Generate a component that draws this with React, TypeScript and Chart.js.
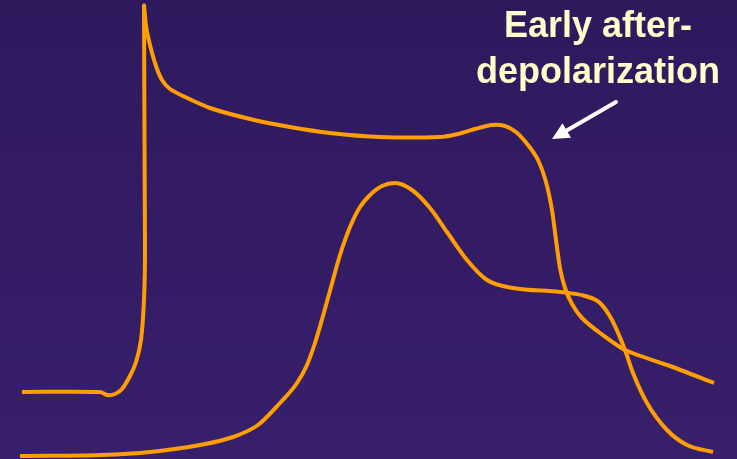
import React, { useEffect, useRef } from "react";
import { Chart, registerables } from "chart.js";

Chart.register(...registerables);

// Time axis (arbitrary units) and amplitude (arbitrary units, up = positive)
const apTime = [22, 100, 107, 115, 122, 130, 136, 141, 144, 145, 144, 146, 150, 156, 162, 170, 185, 210, 250, 290, 330, 380, 440, 458, 475, 492, 505, 516, 528, 538, 546, 552, 556, 560, 565, 572, 582, 600, 625, 670, 714];
const apValue = [67, 67, 64, 65, 70, 83, 97, 119, 159, 209, 453, 433, 414, 393, 379, 370, 362, 351, 340, 332, 326, 322, 322, 325, 330, 334, 333, 327, 314, 299, 277, 249, 219, 191, 171, 155, 141, 126, 109, 93, 76];

const caTime = [20, 100, 150, 200, 233, 258, 280, 297, 307, 315, 323, 331, 340, 350, 360, 370, 382, 395, 412, 430, 447, 467, 487, 513, 560, 585, 600, 612, 625, 633, 647, 667, 687, 713];
const caValue = [3, 4, 7, 14, 22, 34, 56, 76, 94, 116, 143, 172, 204, 232, 252, 264, 273, 276, 269, 251, 227, 199, 179, 171, 167, 163, 156, 139, 109, 86, 56, 29, 14, 7];

const labelLines = ["Early after-", "depolarization"];

const LINE_COLOR = "#ff9e00";

export default function App() {
  const ref = useRef<HTMLCanvasElement | null>(null);

  useEffect(() => {
    document.body.style.margin = "0";
    const canvas = ref.current;
    if (!canvas) return;

    const bgPlugin = {
      id: "bg",
      beforeDraw(chart: any) {
        const { ctx, width, height } = chart;
        const g = ctx.createLinearGradient(0, 0, 0, height);
        g.addColorStop(0, "#2f195d");
        g.addColorStop(1, "#371f6b");
        ctx.save();
        ctx.fillStyle = g;
        ctx.fillRect(0, 0, width, height);
        ctx.restore();
      },
    };

    const annotPlugin = {
      id: "annot",
      afterDraw(chart: any) {
        const { ctx } = chart;
        const xs = chart.scales.x;
        const ys = chart.scales.y;
        ctx.save();
        ctx.fillStyle = "#ffffcc";
        ctx.font = "bold 36px 'Liberation Sans', Arial, sans-serif";
        ctx.textAlign = "center";
        ctx.textBaseline = "alphabetic";
        const cx = xs.getPixelForValue(598);
        ctx.fillText(labelLines[0], cx, ys.getPixelForValue(459 - 37));
        ctx.fillText(labelLines[1], cx, ys.getPixelForValue(459 - 83));

        // arrow
        const x1 = xs.getPixelForValue(616);
        const y1 = ys.getPixelForValue(459 - 102);
        const x2 = xs.getPixelForValue(552);
        const y2 = ys.getPixelForValue(459 - 139);
        const ang = Math.atan2(y2 - y1, x2 - x1);
        const headLen = 17;
        const headW = 8.5;
        const bx = x2 - headLen * Math.cos(ang);
        const by = y2 - headLen * Math.sin(ang);
        ctx.strokeStyle = "#ffffff";
        ctx.lineWidth = 4;
        ctx.lineCap = "round";
        ctx.beginPath();
        ctx.moveTo(x1, y1);
        ctx.lineTo(bx, by);
        ctx.stroke();
        ctx.fillStyle = "#ffffff";
        ctx.beginPath();
        ctx.moveTo(x2, y2);
        ctx.lineTo(bx + headW * Math.sin(ang), by - headW * Math.cos(ang));
        ctx.lineTo(bx - headW * Math.sin(ang), by + headW * Math.cos(ang));
        ctx.closePath();
        ctx.fill();
        ctx.restore();
      },
    };

    const chart = new Chart(canvas, {
      type: "line",
      data: {
        datasets: [
          {
            label: "Action potential",
            data: apTime.map((t, i) => ({ x: t, y: apValue[i] })),
            borderColor: LINE_COLOR,
            borderWidth: 4,
            pointRadius: 0,
            tension: 0.25,
            fill: false,
          },
          {
            label: "Calcium",
            data: caTime.map((t, i) => ({ x: t, y: caValue[i] })),
            borderColor: LINE_COLOR,
            borderWidth: 4,
            pointRadius: 0,
            cubicInterpolationMode: "monotone",
            fill: false,
          },
        ],
      },
      options: {
        animation: false,
        responsive: false,
        maintainAspectRatio: false,
        layout: { padding: 0 },
        plugins: {
          legend: { display: false },
          tooltip: { enabled: false },
          title: { display: false },
        },
        scales: {
          x: { type: "linear", min: 0, max: 737, display: false },
          y: { type: "linear", min: 0, max: 459, display: false },
        },
      },
      plugins: [bgPlugin, annotPlugin],
    });

    return () => chart.destroy();
  }, []);

  return (
    <div style={{ width: 737, height: 459, position: "relative" }}>
      <canvas ref={ref} width={737} height={459} style={{ display: "block" }} />
    </div>
  );
}
